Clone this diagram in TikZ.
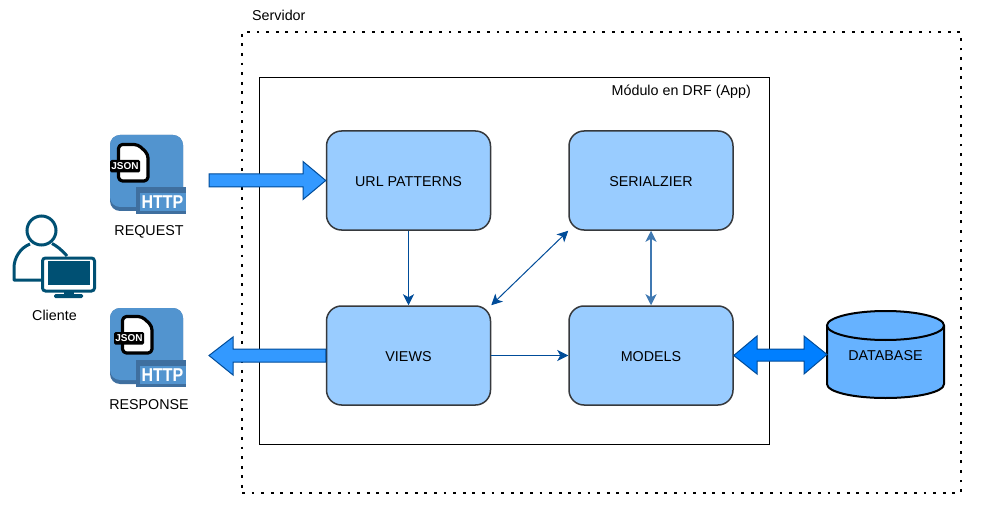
\documentclass[tikz,border=0pt]{standalone}
\usepackage{fontspec}
\setmainfont{Liberation Sans}
\usetikzlibrary{arrows.meta,calc}
\definecolor{boxfill}{HTML}{99CCFF}
\definecolor{boxline}{HTML}{36393D}
\definecolor{linkblue}{HTML}{004C99}
\definecolor{blockfill}{HTML}{3399FF}
\definecolor{dbarrow}{HTML}{007FFF}
\definecolor{dbfill}{HTML}{66B2FF}
\definecolor{iconblue}{HTML}{5294CF}
\definecolor{icondark}{HTML}{3F6F9F}
\definecolor{clientblue}{HTML}{005073}
\tikzset{
  every node/.style={font=\fontsize{14.3}{16}\selectfont, text=black, inner sep=0pt, text height=11pt, text depth=0pt},
  modulebox/.style={draw=boxline, line width=1.5pt, fill=boxfill, rounded corners=15pt,
    minimum width=164pt, minimum height=99pt, align=center},
  link/.style={draw=linkblue, line width=1pt, -{Stealth[length=11pt,width=11pt,inset=3pt]}},
  linkboth/.style={link, {Stealth[length=11pt,width=11pt,inset=3pt]}-{Stealth[length=11pt,width=11pt,inset=3pt]}},
  blockarrow/.style={draw=linkblue, line width=1pt, fill=blockfill, line join=miter},
  pics/httpicon/.style args={#1/#2}{code={
    \fill[icondark, rounded corners=10pt] (0,0) rectangle (73,76);
    \fill[iconblue, rounded corners=10pt] (0,0) rectangle (73,72);
    \fill[icondark] (26,52) rectangle (76,79);
    \fill[iconblue] (30,58) rectangle (76,76);
    \fill[icondark] (26,52) rectangle (30,79);
    \node[font=\bfseries\fontsize{18.6}{20}\selectfont, text=white, xscale=.86, text height=13.6pt] at (52.5,67) {HTTP};
    \begin{scope}[shift={(#1,#2)}]
      \draw[black, line width=3.2pt, fill=white, line join=round, rounded corners=4pt]
        (8.5,9.5) -- (28,9.5) -- (38,19) -- (38,46) -- (8.5,46) -- cycle;
      \fill[black, rounded corners=1.5pt] (0,25) rectangle (30,37.5);
      \node[font=\bfseries\fontsize{10}{11}\selectfont, text=white, text height=7.2pt] at (15,31.2) {JSON};
    \end{scope}
  }},
}
\begin{document}
\begin{tikzpicture}[x=1pt,y=-1pt]
\useasboundingbox (0,0) rectangle (986,516);
\fill[white] (0,0) rectangle (986,516);

% server and module frames
\node[draw=black, line width=2.8pt, dash pattern=on 2.8pt off 6.8pt, minimum width=719pt, minimum height=461pt] (server) at (601.5,262.5) {};
\node[anchor=west] (servidor) at (252,15.5) {Servidor};
\node[draw=black, line width=1pt, minimum width=510pt, minimum height=366pt] (module) at (514,261) {};
\node[anchor=east] (modlabel) at (751,90.5) {Módulo en DRF (App)};

% module boxes
\node[modulebox] (url) at (408.5,180.5) {URL PATTERNS};
\node[modulebox] (serial) at (651,180.5) {SERIALZIER};
\node[modulebox] (views) at (408.5,355.5) {VIEWS};
\node[modulebox] (models) at (651,355.5) {MODELS};

% thin links
\draw[link] (url) -- (views);
\draw[link] (views) -- (models);
\draw[linkboth] (views.north east) -- (serial.south west);
\draw[linkboth, line width=1.5pt, draw=linkblue!75] (serial) -- (models);

% database
\coordinate (db) at (885.5,354.5);
\coordinate (dbwest) at (827,354.5);
\draw[black, line width=2pt, fill=dbfill]
  (827,325.5) -- (827,384)
  .. controls (827,392) and (853,398) .. (885.5,398)
  .. controls (918,398) and (944,392) .. (944,384)
  -- (944,325.5);
\draw[black, line width=2pt, fill=dbfill] (885.5,325.5) ellipse [x radius=58.5pt, y radius=14.5pt];
\node (dblabel) at (db) {DATABASE};

% block arrows
\coordinate (reqtail) at (209,180.5);
\coordinate (resphead) at (209,355.5);
\draw[blockarrow]
  (reqtail |- 0,174) -- (303,174) -- (303,161.5) -- (url.west) -- (303,199.5) -- (303,187) -- (209,187) -- cycle;
\draw[blockarrow]
  ($(views.west)+(0,-6.5)$) -- (233,349) -- (233,337) -- (resphead) -- (233,375) -- (233,362) -- ($(views.west)+(0,6.5)$) -- cycle;
\draw[blockarrow, fill=dbarrow]
  (models.east) -- (757,336) -- (757,349) -- (804,349) -- (804,336) -- (dbwest)
  -- (804,374) -- (804,361) -- (757,361) -- (757,374) -- cycle;

% HTTP icons
\pic at (110,135) {httpicon={0/0}};
\pic at (110,308) {httpicon={4/-1}};
\node (reqlabel) at (149,230.5) {REQUEST};
\node (resplabel) at (149,403.5) {RESPONSE};

% client icon
\draw[clientblue, line width=3pt, fill=white] (41.5,230.5) circle [radius=14.5pt];
\draw[clientblue, line width=3pt, line join=round]
  (67,256) .. controls (62,250) and (56,245.5) .. (52,243.5);
\draw[clientblue, line width=3pt, line join=round]
  (30,244) .. controls (20,248) and (14,258) .. (14,268) -- (14,280) -- (42,280);
\draw[clientblue, line width=3pt, fill=white, rounded corners=3pt] (42.5,258) rectangle (94.5,291);
\fill[clientblue] (48,261) rectangle (90,285);
\fill[clientblue] (64,291) rectangle (74,295);
\fill[clientblue, rounded corners=1.5pt] (54,294) rectangle (83,298);
\node (cliente) at (54.5,315) {Cliente};
\end{tikzpicture}
\end{document}
